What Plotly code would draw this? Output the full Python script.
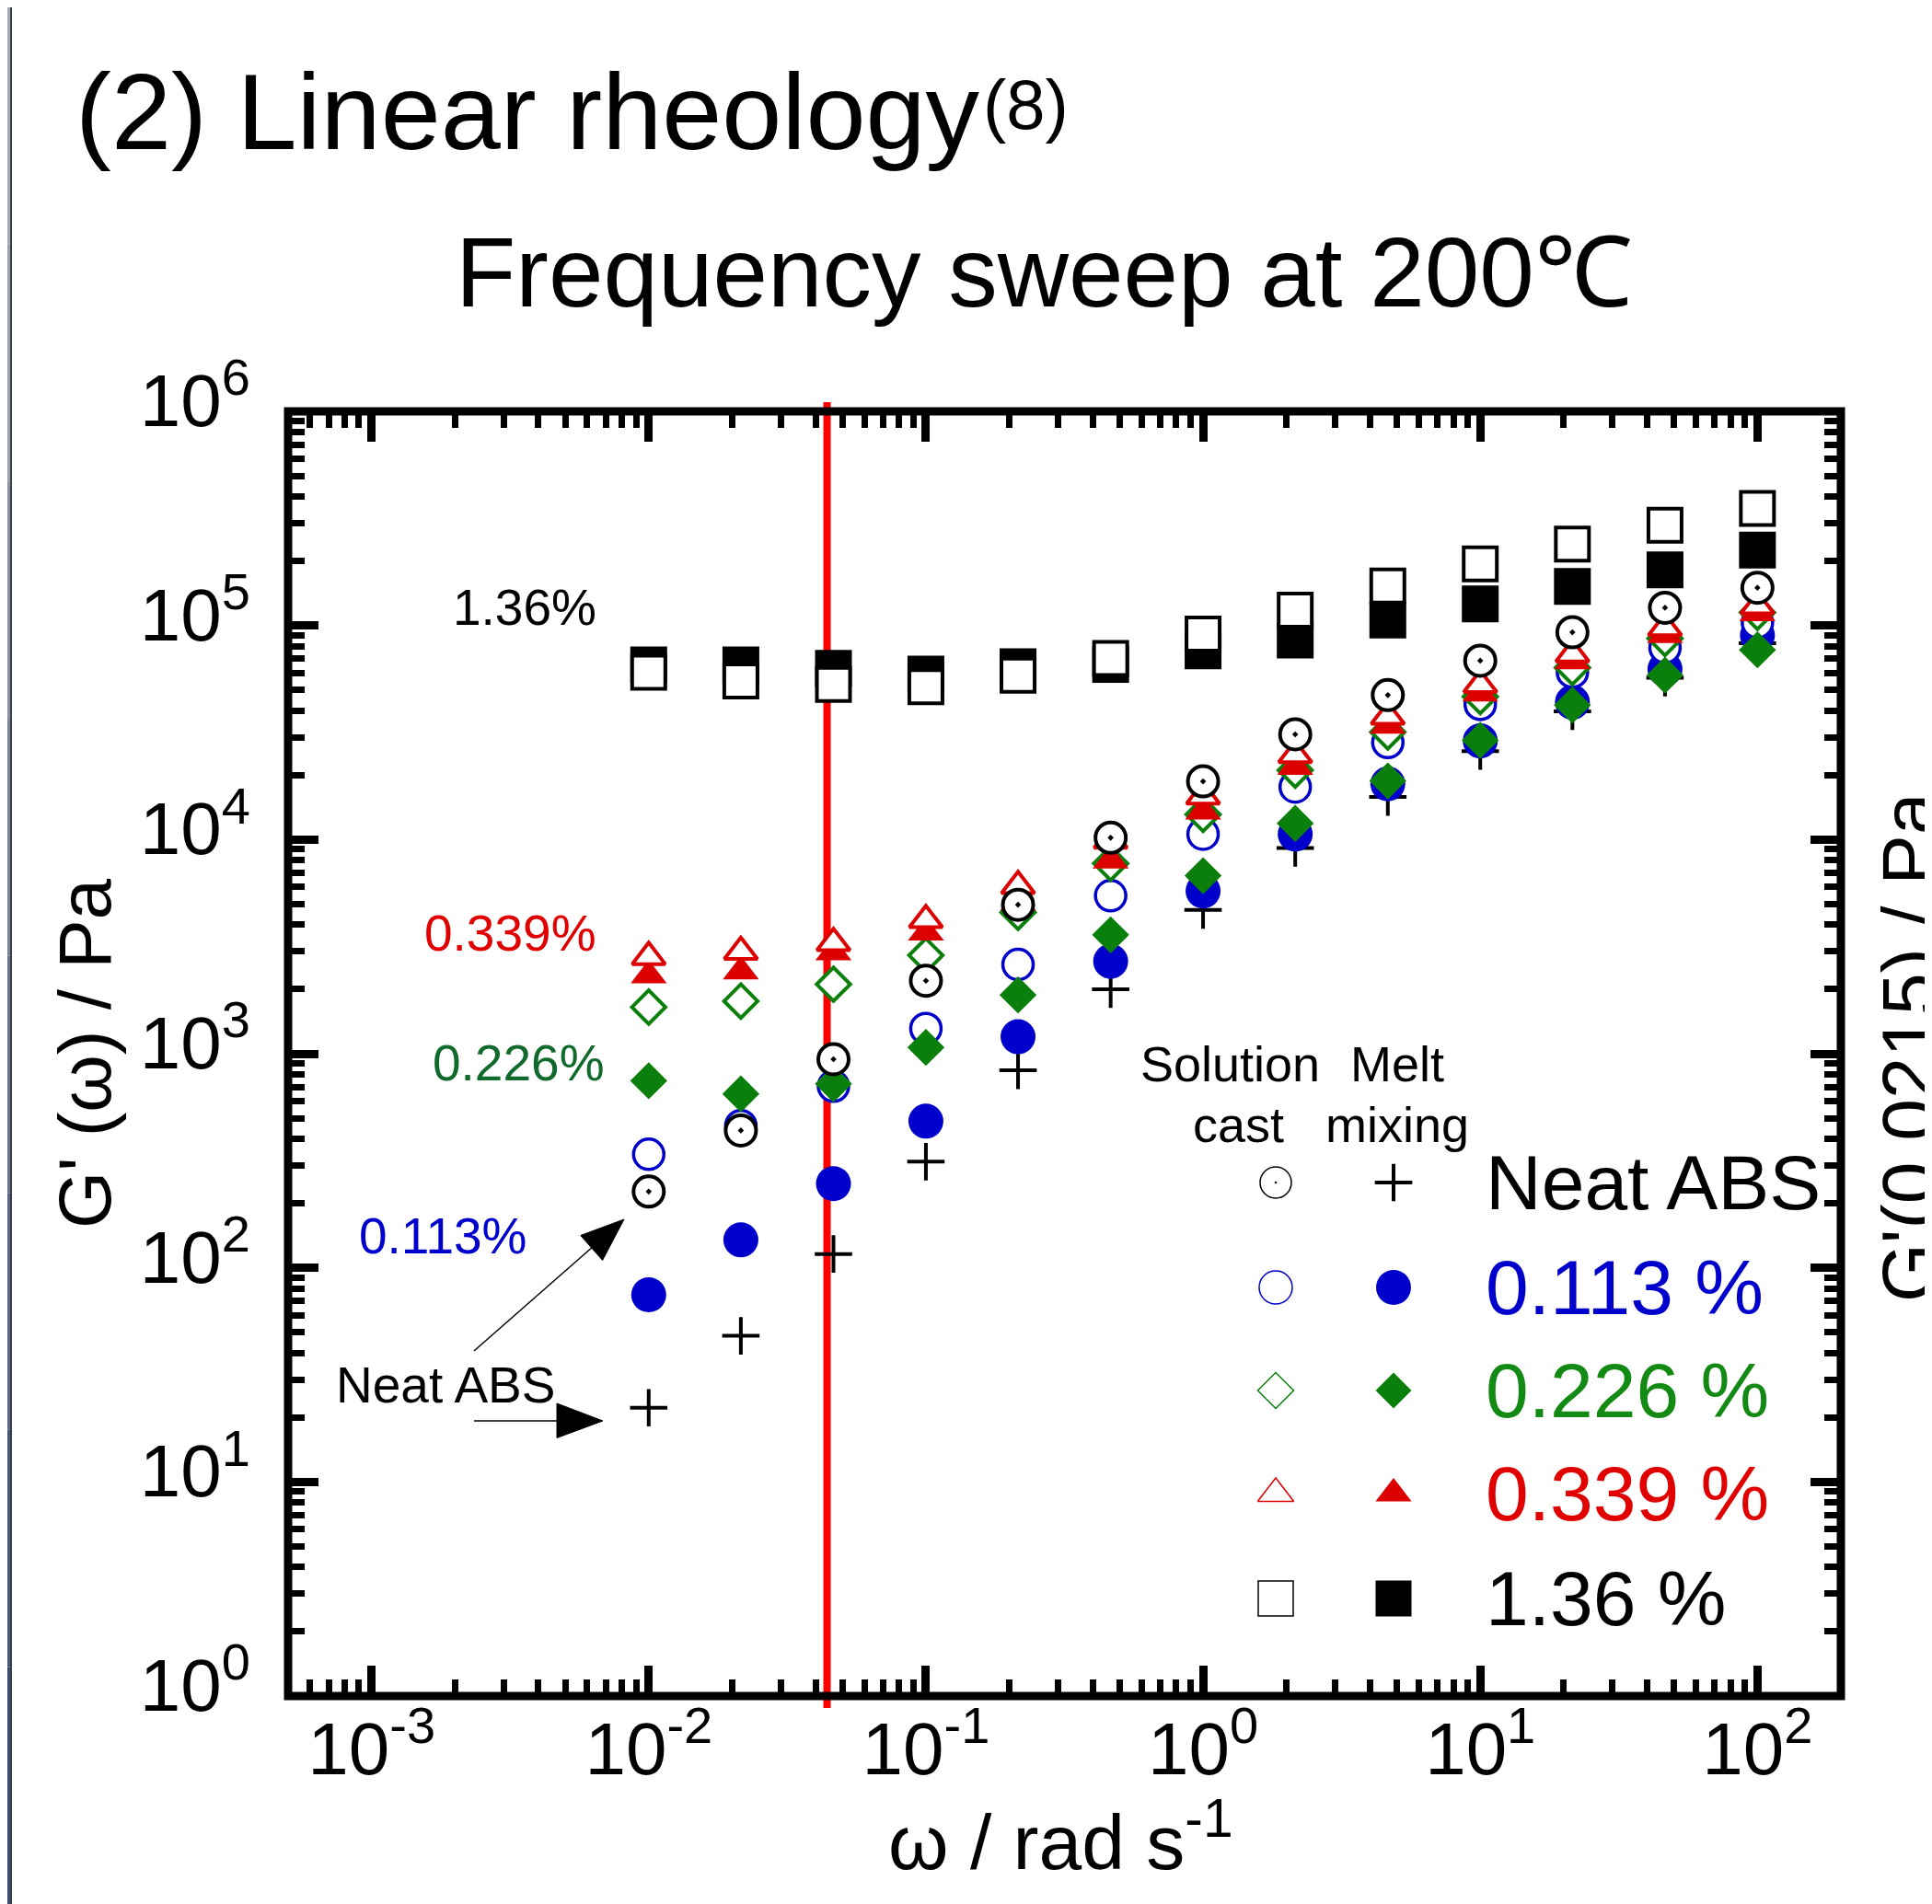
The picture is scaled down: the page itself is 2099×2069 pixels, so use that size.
import math
import plotly.graph_objects as go

# ---------------- data ----------------
omega = [0.01, 0.0215, 0.0464, 0.1, 0.215, 0.464, 1, 2.15, 4.64, 10, 21.5, 46.4, 100]

neat_sc = [227, 438, 942, 2190, 4960, 10200, 18700, 31000, 47300, 68500, 92900, 121000, 150000]
neat_mm = [22.2, 48.1, 116, 313, 836, 2000, 4690, 9130, 15800, 25900, 39700, 57000, 82600]
p113_sc = [339, 461, 705, 1310, 2610, 5470, 10600, 17600, 28400, 42800, 60500, 78700, 103000]
p113_mm = [74.8, 135, 247, 484, 1200, 2700, 5750, 10600, 18200, 28900, 43800, 62500, 89800]
p226_sc = [1650, 1760, 2110, 2880, 4570, 7740, 13100, 21100, 31800, 46500, 63600, 86900, 115000]
p226_mm = [747, 649, 723, 1070, 1880, 3590, 6780, 11900, 18800, 29100, 42500, 58600, 76900]
p339_sc = [2830, 2990, 3290, 4210, 6070, 9890, 15900, 24800, 37500, 52800, 73400, 97200, 123000]
p339_mm = [2320, 2420, 2970, 3670, 5070, 7970, 13500, 21800, 34000, 48000, 68000, 90000, 114000]
p136_sc = [60500, 55100, 53000, 51800, 58600, 70200, 91200, 118000, 153000, 194000, 240000, 294000, 352000]
p136_mm = [65500, 65500, 63000, 59300, 64200, 65700, 76200, 85500, 106000, 126000, 152000, 182000, 225000]

red_line_omega = 0.044

x_tickvals = [1e-3, 1e-2, 1e-1, 1e0, 1e1, 1e2]
x_ticktext = ["10<sup>-3</sup>", "10<sup>-2</sup>", "10<sup>-1</sup>", "10<sup>0</sup>",
              "10<sup>1</sup>", "10<sup>2</sup>"]
y_tickvals = [1e0, 1e1, 1e2, 1e3, 1e4, 1e5, 1e6]
y_ticktext = ["10<sup>%d</sup>" % i for i in range(7)]

legend_labels = ["Neat ABS", "0.113 %", "0.226 %", "0.339 %", "1.36 %"]

# ---------------- layout constants (page pixel coordinates) ----------------
W, H = 2099, 2069
OFF = 8                      # default body margin of the html page
L, R, T, B = 313, 2000, 447, 1843
XMIN, XMAX = math.log10(5e-4), math.log10(200)
FONT = "Liberation Sans, Arial, sans-serif"

BLUE = "#0000cc"
GREEN = "#0b7f0b"
RED = "#dd0000"


def px(x):
    return (x - L) / (R - L)


def py(y):
    return (B - y) / (B - T)


fig = go.Figure()


def add(y, symbol, size, fill, line_color, line_w, name):
    fig.add_trace(go.Scatter(
        x=omega, y=y, mode="markers", name=name, showlegend=False,
        marker=dict(symbol=symbol, size=size, color=fill,
                    line=dict(color=line_color, width=line_w)),
        cliponaxis=False,
    ))


add(neat_mm, "cross-thin", 29, "black", "black", 4, "Neat ABS melt")
add(p113_mm, "circle", 38, BLUE, BLUE, 0, "0.113 melt")
add(p113_sc, "circle", 33, "white", BLUE, 3.5, "0.113 sol")
add(p226_mm, "diamond", 31, GREEN, GREEN, 0, "0.226 melt")
add(p226_sc, "diamond", 28, "white", GREEN, 4, "0.226 sol")
add(p339_mm, "triangle-up", 34, RED, RED, 0, "0.339 melt")
add(p339_sc, "triangle-up", 31, "white", RED, 4, "0.339 sol")
add(p136_mm, "square", 40, "black", "black", 0, "1.36 melt")
add(p136_sc, "square", 36, "white", "black", 4, "1.36 sol")
add(neat_sc, "circle-dot", 33, "white", "black", 4, "Neat ABS sol")

# ---------------- legend keys (overlay axis in paper units) ----------------
leg_cols = [1386, 1514]
leg_rows = [1285, 1399, 1511, 1623, 1737]
leg_open = [("circle-dot", 34, "black"), ("circle", 36, BLUE), ("diamond", 30, GREEN),
            ("triangle-up", 34, RED), ("square", 38, "black")]
leg_fill = [("cross-thin", 29, "black"), ("circle", 38, BLUE), ("diamond", 30, GREEN),
            ("triangle-up", 34, RED), ("square", 39, "black")]
for i, (sym, sz, col) in enumerate(leg_open):
    fig.add_trace(go.Scatter(
        x=[px(leg_cols[0])], y=[py(leg_rows[i])], xaxis="x2", yaxis="y2",
        mode="markers", showlegend=False, hoverinfo="skip",
        marker=dict(symbol=sym, size=sz, color="white", line=dict(color=col, width=1.5))))
for i, (sym, sz, col) in enumerate(leg_fill):
    lw = 4 if sym == "cross-thin" else 0
    fig.add_trace(go.Scatter(
        x=[px(leg_cols[1])], y=[py(leg_rows[i])], xaxis="x2", yaxis="y2",
        mode="markers", showlegend=False, hoverinfo="skip",
        marker=dict(symbol=sym, size=sz, color=col, line=dict(color=col, width=lw))))

# ---------------- axes ----------------
minor_x = [m * 10 ** e for e in range(-4, 3) for m in range(2, 10)
           if XMIN <= math.log10(m * 10 ** e) <= XMAX]
minor_y = [m * 10 ** e for e in range(0, 6) for m in range(2, 10)]

axis_common = dict(
    type="log", showgrid=False, zeroline=False, showline=False,
    ticks="inside", ticklen=33, tickwidth=9, tickcolor="black", mirror="ticks",
    tickfont=dict(family=FONT, size=80, color="black"),
)
fig.update_layout(
    xaxis=dict(range=[XMIN, XMAX], tickmode="array", tickvals=x_tickvals, ticktext=x_ticktext,
               ticklabelstandoff=4,
               minor=dict(ticks="inside", ticklen=18, tickwidth=7, tickcolor="black",
                          tickmode="array", tickvals=minor_x, showgrid=False),
               **axis_common),
    yaxis=dict(range=[0, 6], tickmode="array", tickvals=y_tickvals, ticktext=y_ticktext,
               ticklabelstandoff=40, ticklabelshift=-12,
               minor=dict(ticks="inside", ticklen=18, tickwidth=7, tickcolor="black",
                          tickmode="array", tickvals=minor_y, showgrid=False),
               **axis_common),
    xaxis2=dict(domain=[0, 1], range=[0, 1], anchor="y2", overlaying="x", visible=False),
    yaxis2=dict(domain=[0, 1], range=[0, 1], anchor="x2", overlaying="y", visible=False),
    width=W - OFF, height=H - OFF,
    margin=dict(l=L - OFF, r=W - R, t=T - OFF, b=H - B, pad=0),
    paper_bgcolor="white", plot_bgcolor="white",
    font=dict(family=FONT, color="black"),
)

shapes = []
# red vertical line (paper coords from log scale)
xr = (math.log10(red_line_omega) - XMIN) / (XMAX - XMIN)
shapes.append(dict(type="line", xref="paper", yref="paper", x0=xr, x1=xr,
                   y0=py(1856), y1=py(437), line=dict(color="#ff0000", width=8), layer="below"))
# frame
shapes.append(dict(type="rect", xref="paper", yref="paper", x0=0, x1=1, y0=0, y1=1,
                   line=dict(color="black", width=9), layer="above"))
# arrows
shapes.append(dict(type="line", xref="paper", yref="paper", x0=px(515), y0=py(1468),
                   x1=px(645), y1=py(1354), line=dict(color="black", width=1.5)))
shapes.append(dict(type="path", xref="paper", yref="paper",
                   path="M %f %f L %f %f L %f %f Z" % (px(678), py(1325), px(654.6), py(1369.5),
                                                        px(630.8), py(1342.5)),
                   fillcolor="black", line=dict(color="black", width=1)))
shapes.append(dict(type="line", xref="paper", yref="paper", x0=px(515), y0=py(1544),
                   x1=px(610), y1=py(1544), line=dict(color="black", width=1.5)))
shapes.append(dict(type="path", xref="paper", yref="paper",
                   path="M %f %f L %f %f L %f %f Z" % (px(655), py(1544), px(605), py(1525),
                                                        px(605), py(1562.5)),
                   fillcolor="black", line=dict(color="black", width=1)))
# slide edge strip on the left
strip_cols = ["#a9adb7", "#9ca1ad", "#8d93a3", "#7d8599", "#6c768f", "#5b6785", "#4b597b", "#3d4d72"]
n = len(strip_cols)
for i, c in enumerate(strip_cols):
    y_top = OFF + i * (H - OFF) / n
    y_bot = OFF + (i + 1) * (H - OFF) / n
    shapes.append(dict(type="rect", xref="paper", yref="paper", x0=px(OFF), x1=px(OFF + 3),
                       y0=py(y_bot), y1=py(y_top), fillcolor=c, line=dict(width=0)))
shapes.append(dict(type="rect", xref="paper", yref="paper", x0=px(OFF + 3), x1=px(OFF + 5),
                   y0=py(H), y1=py(OFF), fillcolor="#3a3f4a", line=dict(width=0)))
fig.update_layout(shapes=shapes)

ann = []


def text(x, y, s, size, color="black", xanchor="center", yanchor="middle", angle=0):
    ann.append(dict(x=px(x), y=py(y), xref="paper", yref="paper", text=s, showarrow=False,
                    xanchor=xanchor, yanchor=yanchor, textangle=angle,
                    font=dict(family=FONT, size=size, color=color)))


# titles
text(80, 189, "(2) Linear rheology", 117, xanchor="left", yanchor="bottom")
text(1066, 114, "(8)", 76, xanchor="left")
text(1134, 358, "Frequency sweep at 200\u2103", 107, yanchor="bottom")
# axis titles
text(1152, 2051, "\u03c9 / rad s<sup>-1</sup>", 84, yanchor="bottom")
text(92, 1145, "G' (\u03c9) / Pa", 80, angle=-90)
text(2073, 1138, "G'(0.0215) / Pa", 82, angle=-90)
# in-plot labels
text(650, 660, "1.36%", 55, xanchor="right")
text(650, 1014, "0.339%", 55, color="#e00000", xanchor="right")
text(659, 1155, "0.226%", 55, color="#106a2c", xanchor="right")
text(574, 1343, "0.113%", 55, color=BLUE, xanchor="right")
text(605, 1505, "Neat ABS", 55, xanchor="right")
# legend headers
text(1336, 1156, "Solution", 54)
text(1518, 1156, "Melt", 54)
text(1345, 1222, "cast", 54)
text(1518, 1222, "mixing", 54)
leg_colors = ["black", BLUE, "#138a13", "#e00000", "black"]
for i, lab in enumerate(legend_labels):
    text(1612, leg_rows[i], lab, 84, color=leg_colors[i], xanchor="left")
fig.update_layout(annotations=ann)

fig.write_html("out.html")
